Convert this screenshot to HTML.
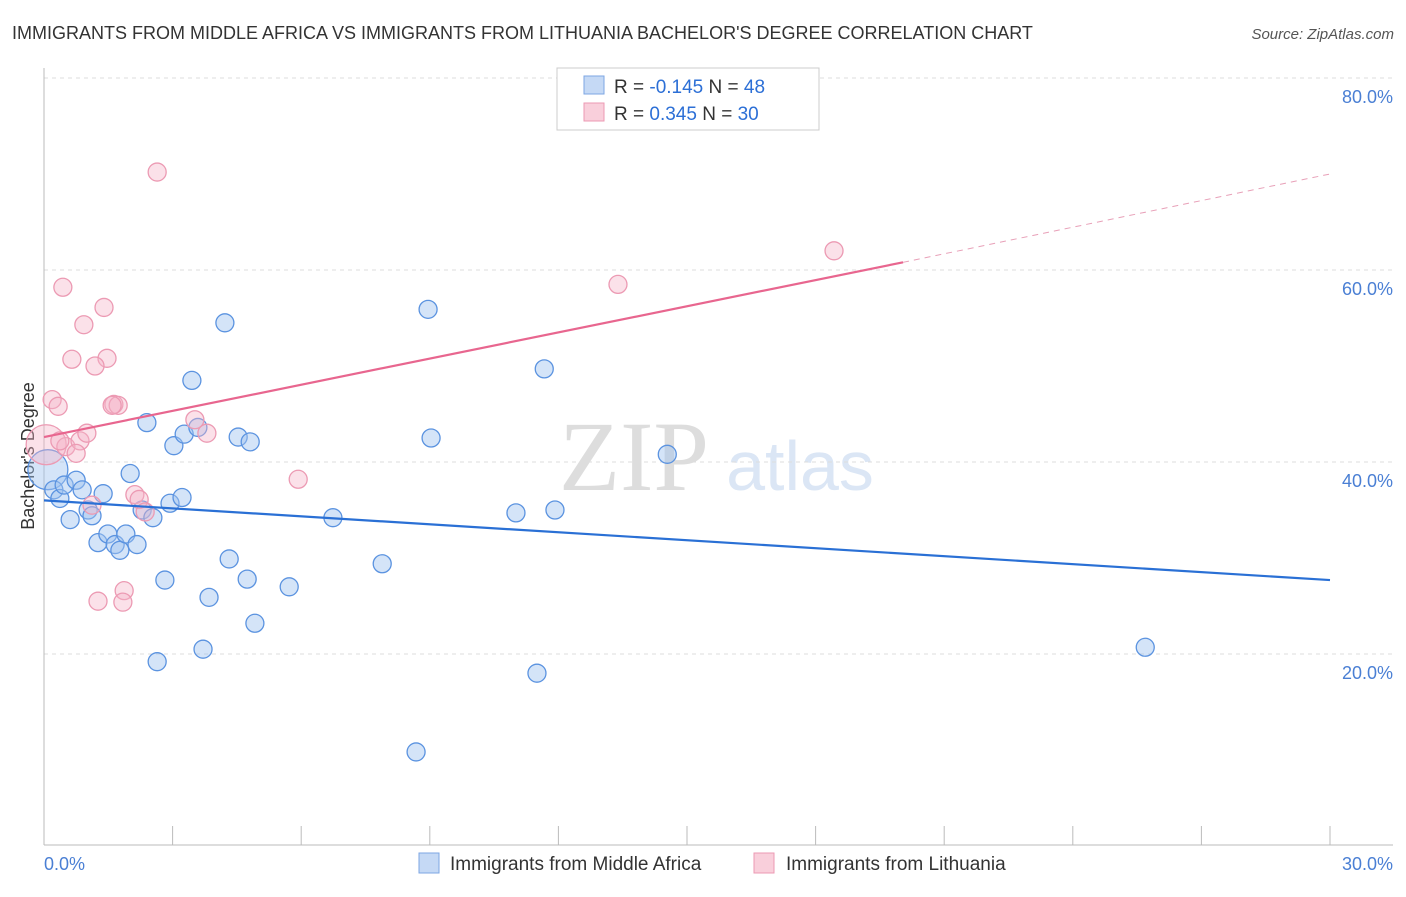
<!DOCTYPE html>
<html><head><meta charset="utf-8"><style>
body{margin:0;background:#fff;font-family:"Liberation Sans",sans-serif;}
</style></head><body>
<svg width="1406" height="892" xmlns="http://www.w3.org/2000/svg" id="svg">
<text x="12" y="39" font-size="18" fill="#333">IMMIGRANTS FROM MIDDLE AFRICA VS IMMIGRANTS FROM LITHUANIA BACHELOR'S DEGREE CORRELATION CHART</text>
<text x="1394" y="39" font-size="15" fill="#555" font-style="italic" text-anchor="end">Source: ZipAtlas.com</text>
<text x="634" y="490" font-size="100" fill="#ddd" font-family="Liberation Serif,serif" text-anchor="middle">ZIP</text>
<text x="800" y="490" font-size="70" fill="#dbe6f5" text-anchor="middle">atlas</text>
<g id="grid"></g>
<line x1="44" y1="68" x2="44" y2="845" stroke="#bbb"/>
<line x1="44" y1="845" x2="1393" y2="845" stroke="#bbb"/>
<text x="34" y="456" font-size="18" fill="#333" text-anchor="middle" transform="rotate(-90 34 456)">Bachelor's Degree</text>
<text x="44" y="870" font-size="18" fill="#4a7fd4">0.0%</text>
<text x="1393" y="870" font-size="18" fill="#4a7fd4" text-anchor="end">30.0%</text>
<g id="marks"></g>
<g>
<rect x="557" y="68" width="262" height="62" fill="#fff" stroke="#ccc"/>
<rect x="584" y="76" width="20" height="18" fill="#c5d9f5" stroke="#7da6e3"/>
<rect x="584" y="103" width="20" height="18" fill="#f9cfdb" stroke="#ec9ab3"/>
<text x="614" y="93" font-size="19" fill="#333">R = <tspan fill="#2c6fd6">-0.145</tspan>   N = <tspan fill="#2c6fd6">48</tspan></text>
<text x="614" y="120" font-size="19" fill="#333">R =  <tspan fill="#2c6fd6">0.345</tspan>   N = <tspan fill="#2c6fd6">30</tspan></text>
</g>
<g>
<rect x="419" y="853" width="20" height="20" fill="#c5d9f5" stroke="#7da6e3"/>
<text x="450" y="870" font-size="19" fill="#333">Immigrants from Middle Africa</text>
<rect x="754" y="853" width="20" height="20" fill="#f9cfdb" stroke="#ec9ab3"/>
<text x="786" y="870" font-size="19" fill="#333">Immigrants from Lithuania</text>
</g>
</svg>
<script>
const yTicks=[20,40,60,80];
const yTickLabels=["20.0%","40.0%","60.0%","80.0%"];
const xTicks=[0,3,6,9,12,15,18,21,24,27,30];
const blueX=[0.09,0.23,0.37,0.47,0.75,0.89,0.61,1.03,1.12,1.38,1.26,1.49,1.66,1.77,1.91,2.17,2.01,2.29,2.54,2.40,2.82,2.64,2.94,3.03,3.22,3.27,3.45,3.59,3.71,3.85,4.22,4.32,4.53,4.74,4.81,4.92,5.72,6.74,7.89,8.68,8.96,9.03,11.01,11.50,11.67,11.92,14.54,25.69];
const blueY=[39.2,37.1,36.2,37.6,38.1,37.1,34.0,35.0,34.4,36.7,31.6,32.5,31.4,30.8,32.5,31.4,38.8,35.0,34.2,44.1,27.7,19.2,35.7,41.7,36.3,42.9,48.5,43.6,20.5,25.9,54.5,29.9,42.6,27.8,42.1,23.2,27.0,34.2,29.4,9.8,55.9,42.5,34.7,18.0,49.7,35.0,40.8,20.7];
const pinkX=[2.64,0.44,1.40,0.93,0.65,1.47,1.19,0.19,0.33,1.63,1.73,1.59,0.05,0.51,0.84,1.00,0.75,3.52,3.80,2.12,2.22,1.12,2.36,5.93,1.26,1.87,1.84,13.39,18.43,0.37];
const pinkY=[70.2,58.2,56.1,54.3,50.7,50.8,50.0,46.5,45.8,46.0,45.9,45.9,41.8,41.6,42.2,43.0,40.9,44.4,43.0,36.6,36.1,35.5,34.8,38.2,25.5,26.6,25.4,58.5,62.0,42.2];
const blueTrend=[[0,36.0],[30,27.7]];
const pinkTrend=[[0,42.6],[20.04,60.8]];
const pinkTrendExt=[[20.04,60.8],[30,70.0]];
const NS="http://www.w3.org/2000/svg";
const sx=v=>44+v/30*1286, sy=v=>846-v*9.6;
function mk(t,a,p){const e=document.createElementNS(NS,t);for(const k in a)e.setAttribute(k,a[k]);p.appendChild(e);return e;}
const grid=document.getElementById('grid'),marks=document.getElementById('marks');
yTicks.forEach((t,i)=>{
 const l=mk('line',{x1:44,x2:1393,y1:sy(t),y2:sy(t),stroke:'#ddd','stroke-dasharray':'4,4'},grid);
 
 
 const tx=mk('text',{x:1393,y:sy(t)+25,'font-size':18,fill:'#4a7fd4','text-anchor':'end'},grid);
 tx.textContent=yTickLabels[i];
 
 
});
xTicks.forEach(t=>{
 const l=mk('line',{x1:sx(t),x2:sx(t),y1:826,y2:845,stroke:'#bbb'},grid);
 
 
});
blueX.forEach((x,i)=>{
 const c=mk('circle',{cx:sx(x),cy:sy(blueY[i]),r:i==0?20:9,fill:'rgba(160,195,240,0.45)',stroke:'#5b93e0','stroke-width':1.3},marks);
 
 
});
pinkX.forEach((x,i)=>{
 const c=mk('circle',{cx:sx(x),cy:sy(pinkY[i]),r:i==12?20:9,fill:'rgba(245,180,200,0.4)',stroke:'#ec9ab3','stroke-width':1.3},marks);
 
 
});
const bl=mk('line',{x1:sx(blueTrend[0][0]),y1:sy(blueTrend[0][1]),x2:sx(blueTrend[1][0]),y2:sy(blueTrend[1][1]),stroke:'#2a70d5','stroke-width':2.2},marks);


const pl=mk('line',{x1:sx(pinkTrend[0][0]),y1:sy(pinkTrend[0][1]),x2:sx(pinkTrend[1][0]),y2:sy(pinkTrend[1][1]),stroke:'#e8668f','stroke-width':2.2},marks);


const pe=mk('line',{x1:sx(pinkTrendExt[0][0]),y1:sy(pinkTrendExt[0][1]),x2:sx(pinkTrendExt[1][0]),y2:sy(pinkTrendExt[1][1]),stroke:'#e8a0b8','stroke-width':1,'stroke-dasharray':'6,5'},marks);


</script>
</body></html>
